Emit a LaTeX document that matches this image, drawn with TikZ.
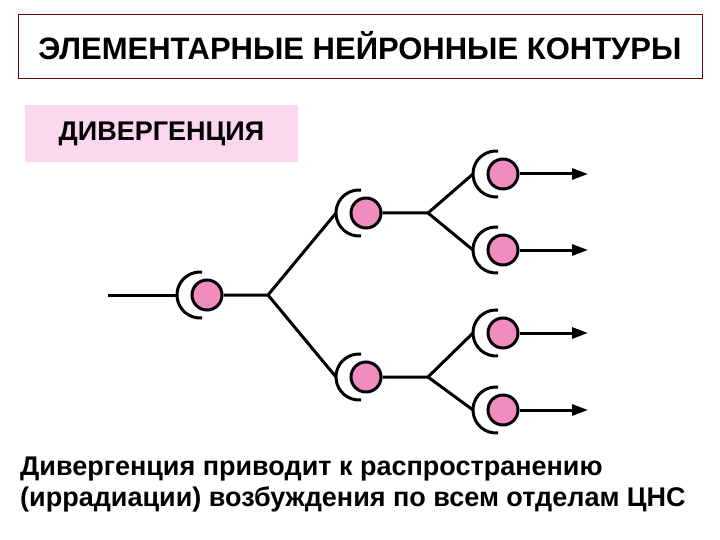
\documentclass[tikz,border=0pt]{standalone}
\usepackage{fontspec}
\setmainfont{Liberation Sans}
\usetikzlibrary{arrows.meta}
\definecolor{somac}{RGB}{240,140,190}
\definecolor{labc}{RGB}{252,215,240}
\begin{document}
\begin{tikzpicture}[x=1pt,y=-1pt,
  ax/.style={line width=3pt},
  arr/.style={line width=3pt,-{Triangle[length=16pt,width=11pt]}},
  soma/.style={circle,draw,line width=3pt,fill=somac,minimum size=30pt,inner sep=0pt}]
\useasboundingbox (0,0) rectangle (720,540);
\node[draw=red!40!black,line width=0.8pt,minimum width=684pt,minimum height=64pt,font=\fontsize{31}{36}\selectfont\bfseries] (title) at (360,46) {ЭЛЕМЕНТАРНЫЕ НЕЙРОННЫЕ КОНТУРЫ};
\node[fill=labc,minimum width=273pt,minimum height=57pt,font=\fontsize{27}{32}\selectfont\bfseries] (lab) at (161.5,133.5) {ДИВЕРГЕНЦИЯ};
\newcommand{\neur}[3]{%
  \node[soma] (#1) at (#2,#3) {};
  \draw[ax] (#2-7,#3) ++(85:23) arc[start angle=85,end angle=275,radius=23];
  \coordinate (#1in) at (#2-30,#3);}
\neur{n0}{207}{295}
\neur{u}{366}{213}
\neur{d}{366}{377}
\neur{u1}{503}{174}
\neur{u2}{503}{250}
\neur{d1}{503}{333}
\neur{d2}{503}{410}
\coordinate (start) at (108,295);
\coordinate (b0) at (268,295);
\coordinate (bu) at (428,213);
\coordinate (bd) at (428,377);
\draw[ax] (start) -- (n0in);
\draw[ax] (n0) -- (b0) -- (uin);
\draw[ax] (b0) -- (din);
\draw[ax] (u) -- (bu) -- (u1in); \draw[ax] (bu) -- (u2in);
\draw[ax] (d) -- (bd) -- (d1in); \draw[ax] (bd) -- (d2in);
\foreach \n in {u1,u2,d1,d2}{\coordinate (\n o) at ([xshift=85pt]\n.center); \draw[arr] (\n) -- (\n o);}
\node[anchor=west,align=left,inner sep=0pt,font=\fontsize{27}{31}\selectfont\bfseries] (txt) at (20,485) {Дивергенция приводит к распространению\\(иррадиации) возбуждения по всем отделам ЦНС};
\end{tikzpicture}
\end{document}
